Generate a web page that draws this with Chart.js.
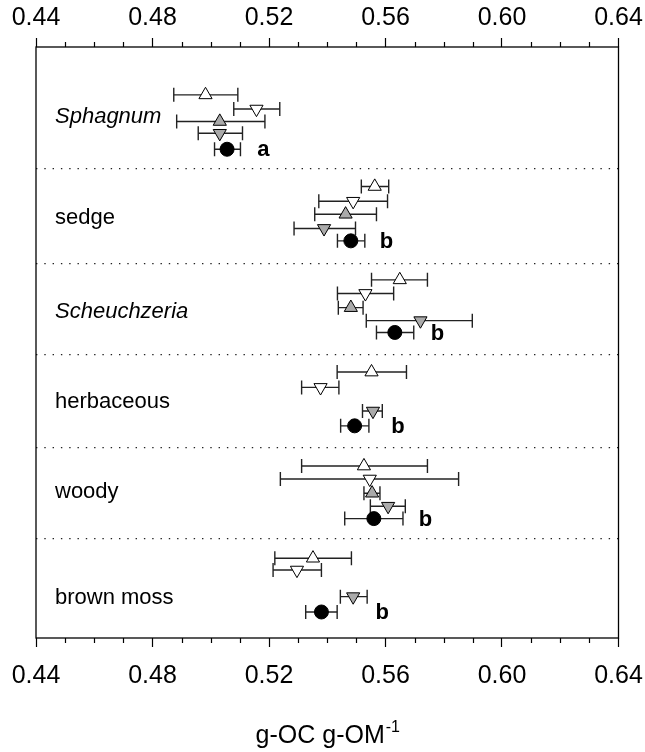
<!DOCTYPE html>
<html>
<head>
<meta charset="utf-8">
<script src="https://cdn.jsdelivr.net/npm/chart.js@4/dist/chart.umd.min.js"></script>
<style>
  body { margin: 0; background: #fff; }
  #wrap { width: 645px; height: 752px; }
</style>
</head>
<body>
<div id="wrap"><canvas id="ocChart" width="645" height="752"></canvas></div>
<script>
// peat types, top to bottom
const peatTypes = ['Sphagnum', 'sedge', 'Scheuchzeria', 'herbaceous', 'woody', 'brown moss'];
const italicTypes = ['Sphagnum', 'Scheuchzeria'];
const sigLetters = ['a', 'b', 'b', 'b', 'b', 'b'];

// open triangle (up)
const openUpMean = [0.4982, 0.5563, 0.5649, 0.5552, 0.5526, 0.5351];
const openUpLow  = [0.4873, 0.5517, 0.5552, 0.5434, 0.5312, 0.5220];
const openUpHigh = [0.5093, 0.5611, 0.5744, 0.5672, 0.5744, 0.5483];
const openUpRow  = [8.1, 23.6, 39.4, 55.0, 70.9, 86.5];

// open triangle (down)
const openDownMean = [0.5157, 0.5489, 0.5531, 0.5377, 0.5546, 0.5296];
const openDownLow  = [0.5079, 0.5371, 0.5435, 0.5312, 0.5239, 0.5214];
const openDownHigh = [0.5237, 0.5607, 0.5628, 0.5440, 0.5851, 0.5380];
const openDownRow  = [10.5, 26.1, 41.7, 57.6, 73.1, 88.5];

// grey triangle (up)
const greyUpMean = [0.5031, 0.5463, 0.5481, null, 0.5554, null];
const greyUpLow  = [0.4883, 0.5357, 0.5438, null, 0.5526, null];
const greyUpHigh = [0.5186, 0.5569, 0.5523, null, 0.5581, null];
const greyUpRow  = [12.6, 28.3, 44.1, null, 75.5, null];

// grey triangle (down)
const greyDownMean = [0.5031, 0.5389, 0.5720, 0.5557, 0.5609, 0.5489];
const greyDownLow  = [0.4957, 0.5286, 0.5534, 0.5521, 0.5548, 0.5445];
const greyDownHigh = [0.5109, 0.5497, 0.5898, 0.5589, 0.5668, 0.5537];
const greyDownRow  = [14.6, 30.7, 46.3, 61.6, 77.7, 93.0];

// filled circle
const dotMean = [0.5056, 0.5481, 0.5632, 0.5494, 0.5560, 0.5380];
const dotLow  = [0.5013, 0.5435, 0.5569, 0.5446, 0.5460, 0.5326];
const dotHigh = [0.5102, 0.5529, 0.5697, 0.5543, 0.5660, 0.5434];
const dotRow  = [17.3, 32.8, 48.3, 64.1, 79.8, 95.6];

// where the group names, letters and dotted dividers go
const labelRow = [11.8, 28.9, 44.8, 60.1, 75.3, 93.2];
const letterX = [0.5160, 0.5580, 0.5755, 0.5620, 0.5714, 0.5566];
const dividerRow = [20.6, 36.7, 52.1, 67.7, 83.1];

const xMin = 0.44, xMax = 0.64;
const FONT = "'Liberation Sans', Arial, sans-serif";

const series = [
    { mean: openUpMean, low: openUpLow, high: openUpHigh, row: openUpRow, style: 'triangle', rot: 0, fill: '#ffffff', order: 5 },
    { mean: openDownMean, low: openDownLow, high: openDownHigh, row: openDownRow, style: 'triangle', rot: 180, fill: '#ffffff', order: 4 },
    { mean: greyUpMean, low: greyUpLow, high: greyUpHigh, row: greyUpRow, style: 'triangle', rot: 0, fill: '#aaaaaa', order: 3 },
    { mean: greyDownMean, low: greyDownLow, high: greyDownHigh, row: greyDownRow, style: 'triangle', rot: 180, fill: '#aaaaaa', order: 2 },
    { mean: dotMean, low: dotLow, high: dotHigh, row: dotRow, style: 'circle', rot: 0, fill: '#000000', order: 1 }
];

const datasets = [];
series.forEach(s => {
    // error bars: one two-point line per mean, caps are rotated 'line' points
    s.mean.forEach((m, i) => {
        if (m === null) return;
        datasets.push({
            data: [{ x: s.low[i], y: s.row[i] }, { x: s.high[i], y: s.row[i] }],
            showLine: true,
            borderColor: '#222',
            borderWidth: 1.4,
            pointStyle: 'line',
            rotation: 90,
            pointRadius: 7,
            pointBorderColor: '#222',
            pointBorderWidth: 1.4,
            order: 10
        });
    });
    datasets.push({
        data: s.mean.map((m, i) => m === null ? null : { x: m, y: s.row[i] }).filter(p => p),
        pointStyle: s.style,
        rotation: s.rot,
        pointRadius: s.style === 'circle' ? 7 : 7.6,
        backgroundColor: s.fill,
        borderColor: '#000',
        borderWidth: 1,
        order: s.order
    });
});

const decorations = {
    id: 'decorations',
    afterDraw(chart) {
        const ctx = chart.ctx;
        const area = chart.chartArea;
        const x = chart.scales.x;
        const y = chart.scales.y;
        ctx.save();
        // frame
        ctx.strokeStyle = '#000';
        ctx.lineWidth = 1.3;
        ctx.strokeRect(area.left, area.top, area.right - area.left, area.bottom - area.top);
        // minor ticks every 0.01
        ctx.lineWidth = 1.2;
        ctx.beginPath();
        for (let i = 1; i < 20; i++) {
            if (i % 4 === 0) continue;
            const px = Math.round(x.getPixelForValue(xMin + i * 0.01)) + 0.5;
            ctx.moveTo(px, area.top);
            ctx.lineTo(px, area.top - 5);
            ctx.moveTo(px, area.bottom);
            ctx.lineTo(px, area.bottom + 5);
        }
        ctx.stroke();
        // group names
        ctx.fillStyle = '#000';
        ctx.textBaseline = 'middle';
        ctx.textAlign = 'left';
        peatTypes.forEach((name, i) => {
            ctx.font = (italicTypes.includes(name) ? 'italic ' : '') + '22px ' + FONT;
            ctx.fillText(name, area.left + 19, y.getPixelForValue(labelRow[i]));
        });
        // significance letters
        ctx.font = 'bold 22px ' + FONT;
        sigLetters.forEach((l, i) => {
            ctx.fillText(l, x.getPixelForValue(letterX[i]), y.getPixelForValue(dotRow[i]) + 1);
        });
        // axis title with superscript
        const main = 'g-OC g-OM', sup = '-1';
        ctx.textBaseline = 'alphabetic';
        ctx.font = '25px ' + FONT;
        const w1 = ctx.measureText(main).width;
        ctx.font = '16px ' + FONT;
        const w2 = ctx.measureText(sup).width;
        const cx = (area.left + area.right) / 2;
        const start = cx - (w1 + w2) / 2;
        ctx.font = '25px ' + FONT;
        ctx.fillText(main, start, 743);
        ctx.font = '16px ' + FONT;
        ctx.fillText(sup, start + w1 + 1, 732);
        ctx.restore();
    }
};

function tickOpts(pad) {
    return {
        stepSize: 0.04,
        color: '#000',
        padding: pad,
        maxRotation: 0,
        font: { family: FONT, size: 25 },
        callback: v => v.toFixed(2)
    };
}

new Chart(document.getElementById('ocChart'), {
    type: 'scatter',
    data: { datasets: datasets },
    options: {
        responsive: false,
        animation: false,
        layout: { padding: { left: 36, right: 26.5, top: 0, bottom: 0 } },
        plugins: { legend: { display: false }, tooltip: { enabled: false } },
        scales: {
            x: {
                type: 'linear', position: 'bottom', min: xMin, max: xMax,
                ticks: tickOpts(14),
                grid: { drawOnChartArea: false, tickLength: 9, tickColor: '#000', tickWidth: 1.2 },
                border: { display: false },
                afterFit: s => { s.height = 114; s.paddingLeft = 0; s.paddingRight = 0; }
            },
            x2: {
                type: 'linear', position: 'top', min: xMin, max: xMax,
                ticks: tickOpts(5),
                grid: { drawOnChartArea: false, tickLength: 9, tickColor: '#000', tickWidth: 1.2 },
                border: { display: false },
                afterFit: s => { s.height = 47; s.paddingLeft = 0; s.paddingRight = 0; }
            },
            y: {
                type: 'linear', min: 0, max: 100, reverse: true,
                afterBuildTicks: scale => { scale.ticks = dividerRow.map(v => ({ value: v })); },
                afterFit: scale => { scale.width = 0; },
                ticks: { display: false },
                grid: { drawTicks: false, color: '#222', lineWidth: 1.2 },
                border: { display: false, dash: [1.4, 6.9] }
            }
        }
    },
    plugins: [decorations]
});
</script>
</body>
</html>
